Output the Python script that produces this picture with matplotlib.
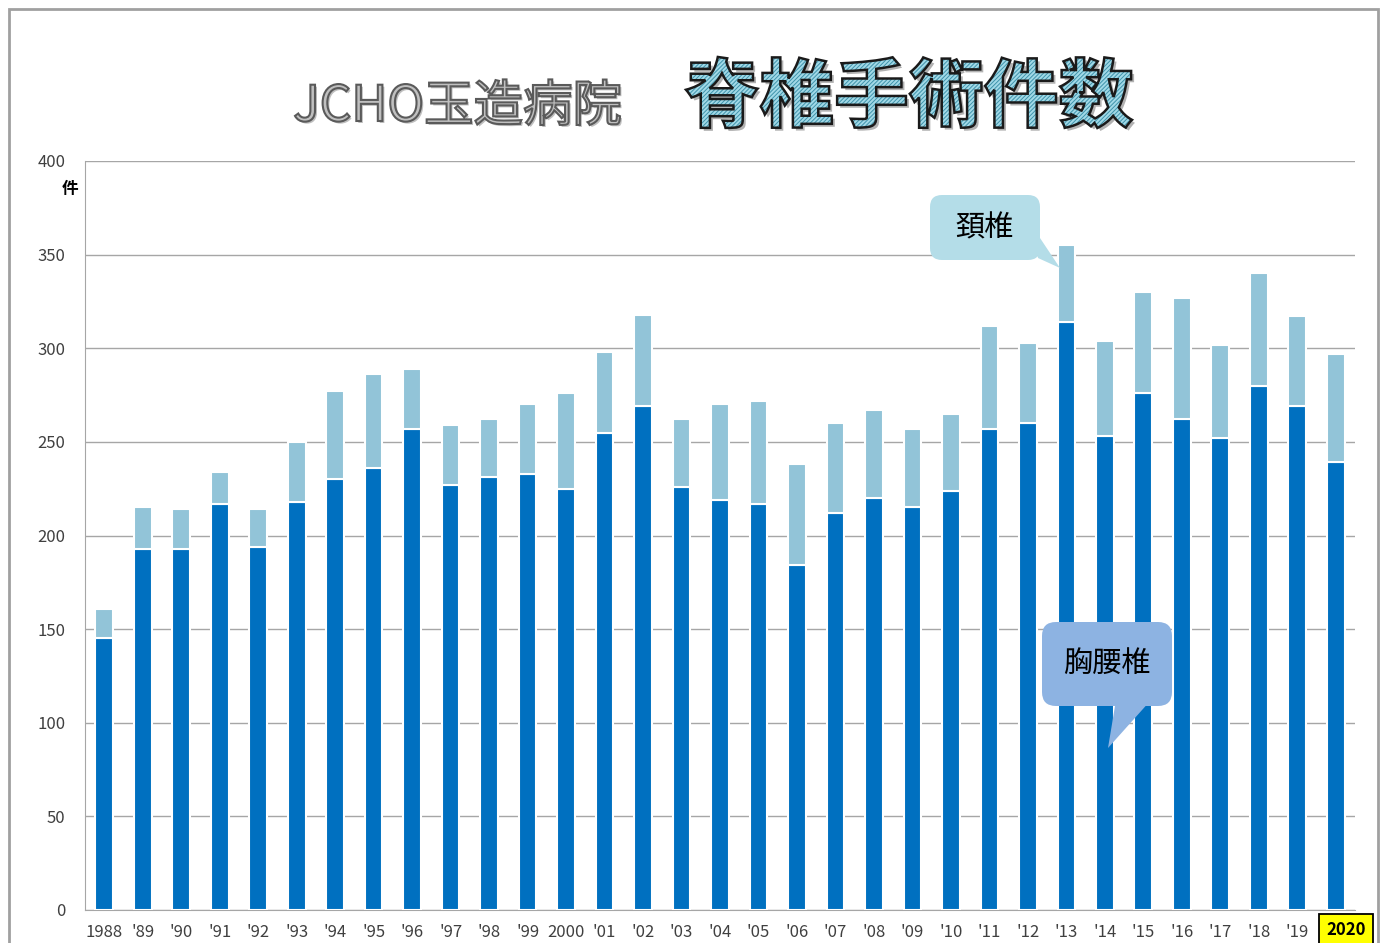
import matplotlib.pyplot as plt
from matplotlib.patches import Rectangle, Polygon, FancyBboxPatch, PathPatch
from matplotlib.textpath import TextPath
from matplotlib.font_manager import FontProperties
from matplotlib.transforms import Affine2D

plt.rcParams['font.family'] = ['Noto Sans CJK JP', 'DejaVu Sans']
plt.rcParams['hatch.linewidth'] = 0.7

# data
years = ['1988', "'89", "'90", "'91", "'92", "'93", "'94", "'95", "'96", "'97",
         "'98", "'99", '2000', "'01", "'02", "'03", "'04", "'05", "'06", "'07",
         "'08", "'09", "'10", "'11", "'12", "'13", "'14", "'15", "'16", "'17",
         "'18", "'19", '2020']
lumbar = [145, 193, 193, 217, 194, 218, 230, 236, 257, 227,
          231, 233, 225, 255, 269, 226, 219, 217, 184, 212,
          220, 215, 224, 257, 260, 314, 253, 276, 262, 252,
          280, 269, 239]
total = [161, 215, 214, 234, 214, 250, 277, 286, 289, 259,
         262, 270, 276, 298, 318, 262, 270, 272, 238, 260,
         267, 257, 265, 312, 303, 355, 304, 330, 327, 302,
         340, 317, 297]
cervical = [t - l for t, l in zip(total, lumbar)]

dark = '#0070C0'
light = '#92C4D8'
W, H = 1386, 943

fig = plt.figure(figsize=(W / 100, H / 100), dpi=100)
ax = fig.add_axes([85 / W, 33 / H, 1270 / W, 749 / H])

x = list(range(len(years)))
ax.bar(x, lumbar, width=0.46, color=dark, edgecolor='white', linewidth=1.5, zorder=3)
ax.bar(x, cervical, bottom=lumbar, width=0.46, color=light, edgecolor='white', linewidth=1.5, zorder=3)

ax.set_xlim(-0.5, len(years) - 0.5)
ax.set_ylim(0, 400)
ax.set_yticks(range(0, 401, 50))
ax.yaxis.grid(True, color='#a6a6a6', linewidth=1)
ax.set_axisbelow(True)
ax.set_xticks(x)
ax.set_xticklabels(years[:-1] + [''])
for s in ['top', 'right']:
    ax.spines[s].set_visible(False)
for s in ['left', 'bottom']:
    ax.spines[s].set_color('#a6a6a6')
ax.tick_params(axis='both', length=0, labelsize=12, colors='#404040')
ax.tick_params(axis='x', pad=10)
ax.tick_params(axis='y', pad=14)

# highlighted last year, sits a little right of its bar
ax.annotate(years[-1], xy=(x[-1], 0), xycoords=('data', 'axes fraction'),
            xytext=(7.5, -14.5), textcoords='offset points', ha='center', va='center',
            fontsize=12, fontweight='bold', color='black',
            bbox=dict(boxstyle='square,pad=0.45', fc='#FFFF00', ec='black', lw=1.3),
            annotation_clip=False)

ax.text(-0.012, 0.963, '件', transform=ax.transAxes, fontsize=12, fontweight='bold',
        ha='center', va='center')


def px(xp, yp):
    # pixel from top-left -> inches for dpi_scale_trans
    return xp / 100, (H - yp) / 100


def title_path(text, weight, left, right, bottom):
    tp = TextPath((0, 0), text, size=50, prop=FontProperties(family='Noto Sans CJK JP', weight=weight))
    ext = tp.get_extents()
    s = (right - left) / ext.width
    tr = Affine2D().translate(-ext.x0, -ext.y0).scale(s).translate(left, H - bottom)
    return tr.transform_path(tp)


# title: gray hospital name
p1 = title_path('JCHO玉造病院', 'normal', 295, 620, 125)
fig.add_artist(PathPatch(p1, transform=Affine2D().translate(2, -2), fc='#000000', ec='none', alpha=0.25))
fig.add_artist(PathPatch(p1, transform=Affine2D(), fc='#c0c0c0', ec='#5a5a5a', lw=1.5))

# title: hatched main title
p2 = title_path('脊椎手術件数', 'bold', 686, 1132, 128)
fig.add_artist(PathPatch(p2, transform=Affine2D().translate(3, -3), fc='#000000', ec='none', alpha=0.3))
fig.add_artist(PathPatch(p2, transform=Affine2D(), fc='#A2D9E7', ec='#3F93AB', lw=0, hatch='////////'))
fig.add_artist(PathPatch(p2, transform=Affine2D(), fc='none', ec='#1a1a1a', lw=1.8))

# callouts
c1 = '#B4DDE8'
fig.add_artist(FancyBboxPatch(px(930, 260), 1.10, 0.65, boxstyle='round,pad=0,rounding_size=0.12',
                              transform=fig.dpi_scale_trans, fc=c1, ec='none', zorder=5))
fig.add_artist(Polygon([px(1032, 226), px(1038, 258), px(1060, 268)], closed=True,
                       transform=fig.dpi_scale_trans, fc=c1, ec='none', zorder=5))
fig.text(985 / W, 1 - 228 / H, '頚椎', fontsize=21, ha='center', va='center', zorder=6)

c2 = '#8DB3E2'
fig.add_artist(FancyBboxPatch(px(1042, 706), 1.30, 0.84, boxstyle='round,pad=0,rounding_size=0.14',
                              transform=fig.dpi_scale_trans, fc=c2, ec='none', zorder=5))
fig.add_artist(Polygon([px(1116, 700), px(1151, 700), px(1108, 748)], closed=True,
                       transform=fig.dpi_scale_trans, fc=c2, ec='none', zorder=5))
fig.text(1107 / W, 1 - 664 / H, '胸腰椎', fontsize=21, ha='center', va='center', zorder=6)

# outer frame
fig.patches.append(Rectangle((9 / W, -0.01), 1369 / W, 1 - 9 / H + 0.01,
                             transform=fig.transFigure, fill=False, ec='#a0a0a0', lw=2))

fig.savefig('out.png', dpi=100)
